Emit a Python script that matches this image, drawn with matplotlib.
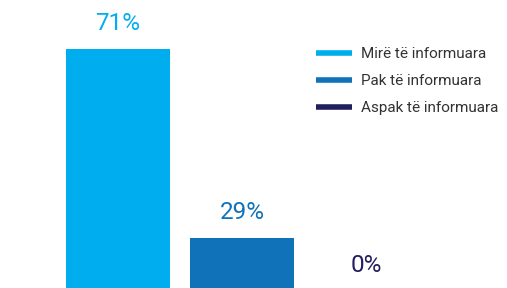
import matplotlib
matplotlib.use("Agg")
import matplotlib.pyplot as plt
from matplotlib.lines import Line2D

categories = ["Mirë të informuara", "Pak të informuara", "Aspak të informuara"]
values = [71, 29, 0]
labels = ["71%", "29%", "0%"]
colors = ["#00AEEF", "#1073B9", "#221F5E"]

plt.rcParams['font.family'] = ['Roboto', 'DejaVu Sans']

fig = plt.figure(figsize=(5.07, 2.88), dpi=100)
ax = fig.add_axes([0, 0, 1, 1])
x = list(range(len(values)))
ax.bar(x, values, width=104/124, color=colors)
ylo, yhi = 17.9, 81.9
ax.set_ylim(ylo, yhi)
ax.set_xlim(-118/124, (507-118)/124)
for xi, v, lab, c in zip(x, values, labels, colors):
    ax.text(xi, max(v + 5.6, ylo + 4.9), lab, ha='center', va='center',
            fontsize=17.5, color=c)
ax.axis('off')

handles = [Line2D([], [], color=c, lw=4, solid_capstyle='butt') for c in colors]
leg = ax.legend(handles, categories, loc='upper left',
                bbox_to_anchor=(316/507, 1 - 47/288), frameon=False,
                borderpad=0, borderaxespad=0,
                fontsize=11, handlelength=2.35, handletextpad=0.6,
                labelspacing=0.85, labelcolor='#333333')
fig.savefig("out.png", dpi=100)
